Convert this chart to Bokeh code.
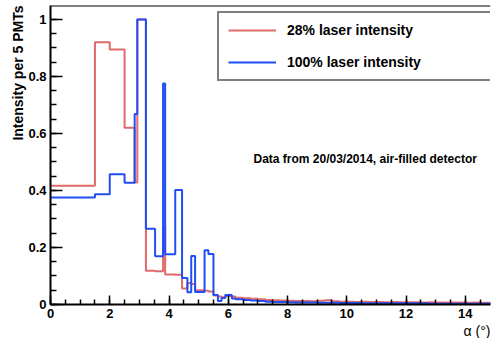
from bokeh.plotting import figure
from bokeh.models import (Label, Legend, LegendItem, Span, SingleIntervalTicker,
                          Range1d, Title)
from bokeh.embed import file_html
from bokeh.resources import INLINE

# Angular bin edges (degrees) shared by both histograms
edges = [0.0, 1.5, 2.0, 2.5, 2.84, 2.93, 3.22, 3.53, 3.8, 3.87, 4.21, 4.44,
         4.62, 4.75, 4.88, 5.2, 5.33, 5.5, 5.65, 5.77, 5.9, 6.12, 6.24,
         6.5, 6.75, 7.0, 7.25, 7.5, 7.75, 8.0, 8.25, 8.5, 8.75, 9.0, 9.25,
         9.5, 9.75, 10.0, 10.25, 10.5, 10.75, 11.0, 11.25, 11.5, 11.75,
         12.0, 12.25, 12.5, 12.75, 13.0, 13.25, 13.5, 13.75, 14.0, 14.25,
         14.5, 14.75, 15.0]

# Normalised intensity per bin, 28% laser intensity
intensity_28 = [0.417, 0.92, 0.895, 0.62, 0.428, 1.0, 0.118, 0.117, 0.274,
                0.105, 0.104, 0.056, 0.075, 0.072, 0.050, 0.048, 0.046,
                0.032, 0.028, 0.025, 0.030, 0.028,
                0.024, 0.022, 0.020, 0.018, 0.016, 0.015, 0.014, 0.013,
                0.012, 0.012, 0.011, 0.013, 0.015, 0.011, 0.010, 0.010,
                0.009, 0.010, 0.009, 0.009, 0.008, 0.009, 0.008, 0.008,
                0.008, 0.007, 0.008, 0.007, 0.007, 0.007, 0.007, 0.006,
                0.007, 0.006, 0.006]

# Normalised intensity per bin, 100% laser intensity
intensity_100 = [0.375, 0.387, 0.457, 0.427, 0.668, 1.0, 0.266, 0.169, 0.775,
                 0.176, 0.402, 0.093, 0.043, 0.170, 0.044, 0.190, 0.177,
                 0.033, 0.012, 0.023, 0.033, 0.021,
                 0.018, 0.016, 0.014, 0.012, 0.010, 0.009, 0.009, 0.008,
                 0.007, 0.007, 0.007, 0.006, 0.006, 0.006, 0.005, 0.005,
                 0.005, 0.004, 0.004, 0.004, 0.004, 0.004, 0.004, 0.004,
                 0.004, 0.004, 0.003, 0.003, 0.003, 0.003, 0.003, 0.003,
                 0.003, 0.003, 0.003]

x_ticks_major = 2
y_ticks_major = 0.2
y_tick_labels = {0: "0", 0.2: "0.2", 0.4: "0.4", 0.6: "0.6", 0.8: "0.8", 1: "1"}

FONT = "Liberation Sans"
RED = "#e06a6a"
BLUE = "#1f4ef5"

x_end = 14.85
y_end = 1.049

p = figure(width=492, height=338, output_backend="svg", toolbar_location=None,
           x_range=Range1d(0, x_end), y_range=Range1d(0, y_end),
           min_border_left=50, min_border_right=2, min_border_top=5,
           min_border_bottom=33)
p.outline_line_color = None
p.xgrid.visible = False
p.ygrid.visible = False
p.background_fill_color = "white"
p.border_fill_color = "white"

# Histograms drawn as steps: value holds from each edge to the next
r_red = p.step(x=edges, y=intensity_28 + [intensity_28[-1]], mode="after",
               line_color=RED, line_width=2)
r_blue = p.step(x=edges, y=intensity_100 + [intensity_100[-1]], mode="after",
                line_color=BLUE, line_width=2)

# Axes
for ax in (p.xaxis[0], p.yaxis[0]):
    ax.axis_line_color = "black"
    ax.axis_line_width = 2
    ax.major_tick_line_color = "black"
    ax.minor_tick_line_color = "black"
    ax.major_tick_line_width = 1.5
    ax.minor_tick_line_width = 1.5
    ax.major_tick_out = 0
    ax.minor_tick_out = 0
    ax.major_label_text_font = FONT
    ax.major_label_text_font_style = "bold"
    ax.major_label_text_font_size = "13px"
    ax.major_label_text_color = "black"

p.xaxis.ticker = SingleIntervalTicker(interval=x_ticks_major, num_minor_ticks=4)
p.yaxis.ticker = SingleIntervalTicker(interval=y_ticks_major, num_minor_ticks=4)
p.yaxis.major_label_overrides = y_tick_labels
p.xaxis.major_tick_in = 9
p.xaxis.minor_tick_in = 5
p.yaxis.major_tick_in = 12
p.yaxis.minor_tick_in = 6
p.xaxis.major_label_standoff = 4
p.yaxis.major_label_standoff = 4

# Axis titles as side panels, aligned to the far ends of the axes
p.add_layout(Title(text="Intensity per 5 PMTs", align="right", standoff=0,
                   offset=0, text_font=FONT, text_font_style="bold",
                   text_font_size="14px", text_color="black"), "left")
p.add_layout(Title(text="α (°)", align="right", standoff=0, offset=0,
                   text_font=FONT, text_font_style="normal",
                   text_font_size="14px", text_color="black",
                   text_line_height=0.7), "below")

# Top edge of the frame
p.add_layout(Span(location=y_end, dimension="width", line_color="black",
                  line_width=2))

# Run annotation
p.add_layout(Label(x=6.85, y=0.511, text="Data from 20/03/2014, air-filled detector",
                   text_align="left", text_baseline="middle",
                   text_font=FONT, text_font_style="bold",
                   text_font_size="12px", text_color="black"))

legend = Legend(items=[LegendItem(label="28% laser intensity", renderers=[r_red]),
                       LegendItem(label="100% laser intensity", renderers=[r_blue])],
                location=(167, 223))
legend.border_line_color = "black"
legend.border_line_width = 2
legend.padding = 9
legend.spacing = 16
legend.glyph_height = 16
legend.glyph_width = 48
legend.label_standoff = 11
legend.label_width = 220
legend.label_text_font = FONT
legend.label_text_font_style = "bold"
legend.label_text_font_size = "14px"
legend.label_text_color = "black"
legend.background_fill_color = "white"
legend.margin = 0
p.add_layout(legend)

open("out.html", "w").write(file_html(p, INLINE))
